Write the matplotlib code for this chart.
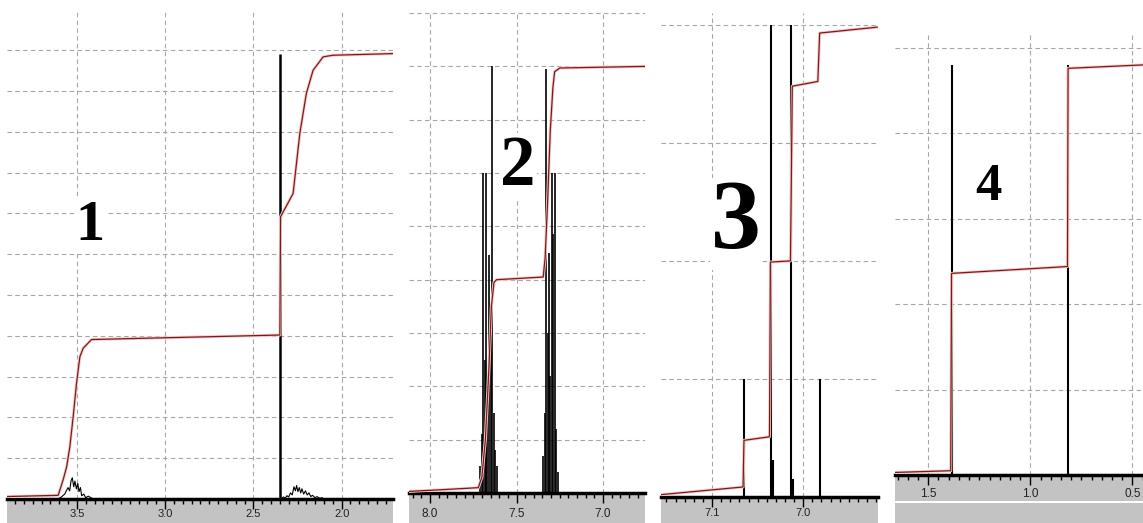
import matplotlib
matplotlib.use("Agg")
import matplotlib.pyplot as plt
from matplotlib.ticker import MultipleLocator, FormatStrFormatter
from matplotlib.patches import Rectangle

# ---- panel 1 : 3.9 - 1.7 ppm ----
p1_peak_ppm = [2.347]
p1_peak_h = [10.92]
p1_noise_a_ppm = [3.607, 3.588, 3.569, 3.560, 3.550, 3.541, 3.533, 3.526, 3.518, 3.511,
                  3.503, 3.495, 3.488, 3.480, 3.473, 3.461, 3.450, 3.436, 3.423, 3.408]
p1_noise_a_val = [0.0, 0.05, 0.12, 0.20, 0.28, 0.20, 0.45, 0.52, 0.30, 0.44,
                  0.25, 0.38, 0.18, 0.28, 0.08, 0.12, 0.03, 0.07, 0.04, 0.0]
p1_noise_b_ppm = [2.345, 2.33, 2.32, 2.31, 2.30, 2.29, 2.28, 2.27, 2.262, 2.255, 2.248, 2.24,
                  2.232, 2.225, 2.215, 2.205, 2.195, 2.185, 2.175, 2.165, 2.15, 2.14, 2.125,
                  2.11, 2.10]
p1_noise_b_val = [0.0, 0.05, 0.02, 0.08, 0.05, 0.15, 0.10, 0.30, 0.20, 0.33, 0.18, 0.28,
                  0.15, 0.25, 0.12, 0.20, 0.10, 0.15, 0.06, 0.09, 0.03, 0.06, 0.02, 0.03, 0.0]
p1_int_ppm = [3.896, 3.606, 3.578, 3.558, 3.540, 3.521, 3.502, 3.483, 3.464, 3.417,
              2.350, 2.346, 2.275, 2.237, 2.200, 2.162, 2.105, 2.049, 1.709]
p1_int_val = [0.06, 0.09, 0.47, 0.79, 1.28, 2.02, 2.84, 3.49, 3.70, 3.91,
              4.02, 6.92, 7.49, 8.96, 9.94, 10.51, 10.84, 10.88, 10.92]

# ---- panel 2 : 8.1 - 6.8 ppm ----
p2_peak_ppm = [7.712, 7.702, 7.692, 7.684, 7.677, 7.668, 7.660, 7.650, 7.641, 7.632, 7.622, 7.614,
               7.345, 7.335, 7.327, 7.318, 7.313, 7.304, 7.296, 7.287, 7.279, 7.270, 7.262]
p2_peak_h = [0.5, 1.1, 6.0, 2.5, 6.0, 2.0, 4.47, 3.0, 8.0, 1.5, 0.8, 0.5,
             0.7, 1.5, 7.95, 3.0, 4.5, 2.2, 6.0, 4.85, 6.0, 1.2, 0.4]
p2_int_ppm = [8.121, 7.942, 7.721, 7.700, 7.680, 7.660, 7.645, 7.630, 7.615,
              7.346, 7.335, 7.320, 7.305, 7.290, 7.280, 7.250, 6.758]
p2_int_val = [0.03, 0.06, 0.10, 0.30, 1.0, 2.3, 3.5, 3.95, 4.0,
              4.05, 4.4, 5.5, 6.8, 7.6, 7.9, 7.97, 8.0]

# ---- panel 3 : 7.16 - 6.92 ppm ----
p3_peak_ppm = [7.065, 7.035, 7.033, 7.013, 7.011, 6.982]
p3_peak_h = [1.0, 4.0, 0.31, 4.0, 0.15, 1.0]
p3_int_ppm = [7.156, 7.066, 7.065, 7.037, 7.036, 7.014, 7.012, 6.984, 6.982, 6.919]
p3_int_val = [0.02, 0.085, 0.48, 0.51, 1.99, 2.0, 3.48, 3.52, 3.93, 3.98]

# ---- panel 4 : 1.66 - 0.45 ppm ----
p4_peak_ppm = [1.385, 0.814]
p4_peak_h = [4.80, 4.80]
p4_int_ppm = [1.663, 1.390, 1.386, 0.818, 0.815, 0.448]
p4_int_val = [0.03, 0.05, 2.36, 2.44, 4.76, 4.80]

labels = ["1", "2", "3", "4"]

W, H = 1143, 523
fig = plt.figure(figsize=(W / 100, H / 100), dpi=100)
fig.patch.set_facecolor("white")

GRID = dict(color="#a6a6a6", lw=0.8, linestyle=(0, (4, 3)))
BAR = "#c3c3c3"


def panel(box, xlim, ylim_top, ngrid, major, minor, pad, tsize=8.5):
    x0, x1, ytop, ybot = box
    ax = fig.add_axes([x0 / W, 1 - ybot / H, (x1 - x0) / W, (ybot - ytop) / H])
    ax.set_xlim(*xlim)
    ax.set_ylim(0, ylim_top)
    ax.set_yticks(range(1, ngrid + 1))
    ax.xaxis.set_major_locator(MultipleLocator(major))
    ax.xaxis.set_minor_locator(MultipleLocator(minor))
    ax.xaxis.set_major_formatter(FormatStrFormatter("%.1f"))
    ax.tick_params(axis="y", left=False, labelleft=False)
    ax.tick_params(axis="x", which="major", direction="out", length=7, width=1,
                   pad=pad, labelsize=tsize, labelcolor="#222222")
    ax.tick_params(axis="x", which="minor", direction="out", length=3.8, width=1)
    for lab in ax.get_xticklabels():
        lab.set_family("Liberation Sans")
    for s in ("top", "left", "right"):
        ax.spines[s].set_visible(False)
    ax.spines["bottom"].set_linewidth(2.5)
    ax.set_axisbelow(True)
    ax.grid(True, **GRID)
    return ax


def bar(x0, x1, y0, y1):
    fig.add_artist(Rectangle((x0 / W, 1 - y1 / H), (x1 - x0) / W, (y1 - y0) / H,
                             transform=fig.transFigure, facecolor=BAR,
                             edgecolor="none", zorder=-1))


def integral(ax, xs, ys):
    ax.plot(xs, ys, color="#f5cccc", lw=2.2, zorder=3)
    ax.plot(xs, ys, color="#7d1818", lw=0.9, zorder=4)


def tag(ax, x, y, text, size):
    ax.text(x, y, text, ha="center", va="baseline", fontsize=size,
            family="Liberation Serif", fontweight="bold", zorder=6,
            bbox=dict(facecolor="white", edgecolor="none", pad=1))


# panel 1
bar(7, 393, 500, 523)
ax1 = panel((7, 393, 12, 499), (3.896, 1.709), 11.94, 11, 0.5, 0.05, 0.3, 8)
ax1.vlines(p1_peak_ppm, 0, p1_peak_h, color="black", lw=1.8, zorder=2)
ax1.plot(p1_noise_a_ppm, p1_noise_a_val, color="black", lw=0.8, zorder=2)
ax1.plot(p1_noise_b_ppm, p1_noise_b_val, color="black", lw=0.8, zorder=2)
integral(ax1, p1_int_ppm, p1_int_val)
tag(ax1, 3.426, 6.35, labels[0], 42)

# panel 2
bar(409, 645, 495, 523)
ax2 = panel((409, 645, 12, 493), (8.121, 6.758), 9.02, 9, 0.5, 0.05, 3.7)
ax2.vlines(p2_peak_ppm, 0, p2_peak_h, color="black", lw=1.2, zorder=2)
integral(ax2, p2_int_ppm, p2_int_val)
tag(ax2, 7.492, 5.78, labels[1], 51)

# panel 3
bar(661, 878, 499, 523)
ax3 = panel((661, 878, 13, 497), (7.156, 6.918), 4.10, 4, 0.1, 0.01, 1.0, 8)
ax3.vlines(p3_peak_ppm, 0, p3_peak_h, color="black", lw=1.5, zorder=2)
integral(ax3, p3_int_ppm, p3_int_val)
tag(ax3, 7.074, 2.11, labels[2], 72)

# panel 4
bar(895, 1143, 476, 501)
bar(895, 1143, 503, 523)
ax4 = panel((895, 1143, 35, 475), (1.663, 0.448), 5.15, 5, 0.5, 0.05, 2.5)
ax4.vlines(p4_peak_ppm, 0, p4_peak_h, color="black", lw=1.5, zorder=2)
integral(ax4, p4_int_ppm, p4_int_val)
tag(ax4, 1.203, 3.22, labels[3], 38)

fig.savefig("out.png", dpi=100, facecolor="white")
